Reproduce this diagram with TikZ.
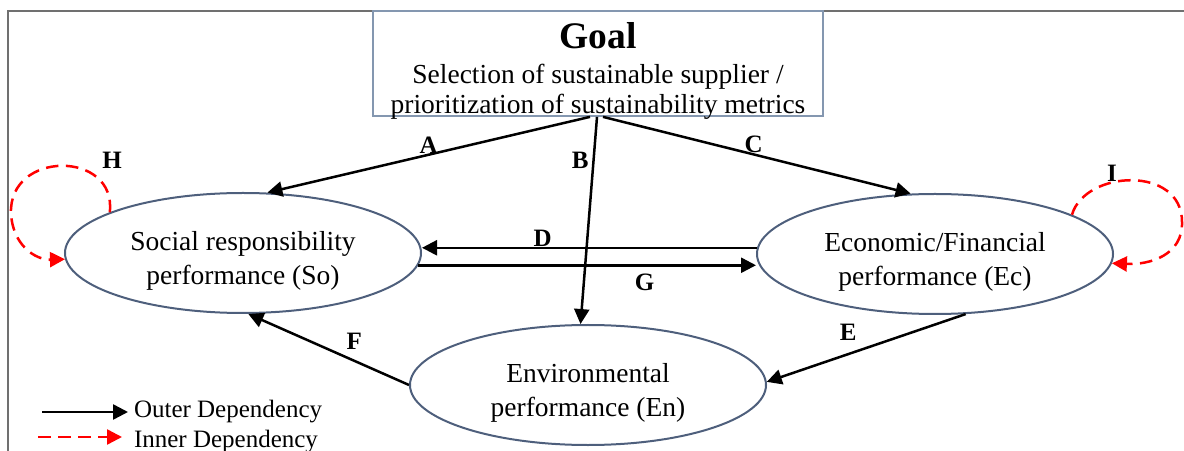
\documentclass[tikz,border=0pt]{standalone}
\usepackage{fontspec}
\setmainfont{Liberation Serif}
\usetikzlibrary{arrows.meta,shapes.geometric}
\definecolor{boxline}{HTML}{8497B0}
\definecolor{ovalline}{HTML}{4E5F7C}
\definecolor{frameline}{HTML}{707070}
\tikzset{
  >={Triangle[length=6pt,width=6pt]},
  goal/.style = {
    draw=boxline, line width=0.7pt,
    minimum width=180pt, minimum height=42pt, inner sep=0pt
  },
  criterion/.style = {
    ellipse, draw=ovalline, line width=0.8pt,
    minimum width=142.4pt, minimum height=48pt, inner sep=0pt,
    align=center, text height=27.5pt, font=\fontsize{11}{13.4}\selectfont
  },
  outerdep/.style = {->, line width=1pt},
  innerdep/.style = {->, red, line width=1pt, dash pattern=on 5pt off 3pt},
  letter/.style = {font=\fontsize{10}{10}\selectfont\bfseries, inner sep=0pt},
  legendtext/.style = {anchor=west, inner sep=1pt, font=\fontsize{10}{12}\selectfont}
}

\begin{document}
\begin{tikzpicture}[x=0.4pt,y=-0.4pt]
  \useasboundingbox (0,0) rectangle (1184,451);
  \draw[frameline, line width=0.6pt] (8,451) -- (8,11) -- (1184,11);

  \node[goal] (goal) at (598,63.5) {};
  \node[align=center, anchor=north, inner sep=0pt, font=\fontsize{11}{12}\selectfont] (goaltext) at (598,21.5)
    {{\fontsize{15}{15}\selectfont\bfseries Goal}\\[2pt]
     Selection of sustainable supplier /\\
     prioritization of sustainability metrics};

  \node[criterion] (so) at (243,253) {Social responsibility\\performance (So)};
  \node[criterion] (ec) at (935,254) {Economic/Financial\\performance (Ec)};
  \node[criterion] (en) at (588,385) {Environmental\\performance (En)};

  \draw[outerdep] ([xshift=-3.2pt]goal.south) -- node[letter, above, pos=.5] (lblA) {A} (so.68);
  \draw[outerdep] ([xshift=-0.4pt]goal.south) -- node[letter, left=1.5pt, pos=.21] (lblB) {B} (en.97);
  \draw[outerdep] ([xshift=2pt]goal.south) -- node[letter, above, pos=.49] (lblC) {C} (ec.112);
  \draw[outerdep] (ec.178) -- node[letter, above, pos=.64] (lblD) {D} (ec.178 -| so.east);
  \draw[outerdep] (so.356) -- node[letter, below=3pt, pos=.67] (lblG) {G} (so.356 -| ec.west);
  \draw[outerdep] (ec.297) -- node[letter, above=5pt, pos=.59] (lblE) {E} (en.1);
  \draw[outerdep] (en.180) -- node[letter, above=4pt, pos=.34] (lblF) {F} (so.275);

  \draw[innerdep] (so.163) .. controls (117,150) and (8,150) .. (11,214)
    .. controls (13,245) and (35,260) .. (so.182);
  \node[letter] (lblH) at (112,160) {H};
  \draw[innerdep] (ec.16) .. controls (1085,170) and (1182,165) .. (1182,222)
    .. controls (1183,255) and (1150,265) .. (ec.357);
  \node[letter] (lblI) at (1112,173) {I};

  \coordinate (outerfrom) at (42,412);
  \coordinate (outerto) at (128,412);
  \coordinate (innerfrom) at (38,437);
  \coordinate (innerto) at (122,437);
  \draw[outerdep] (outerfrom) -- (outerto);
  \draw[innerdep] (innerfrom) -- (innerto);
  \node[legendtext] (outerkey) at (131,412) {Outer Dependency};
  \node[legendtext] (innerkey) at (131,442) {Inner Dependency};
\end{tikzpicture}
\end{document}
